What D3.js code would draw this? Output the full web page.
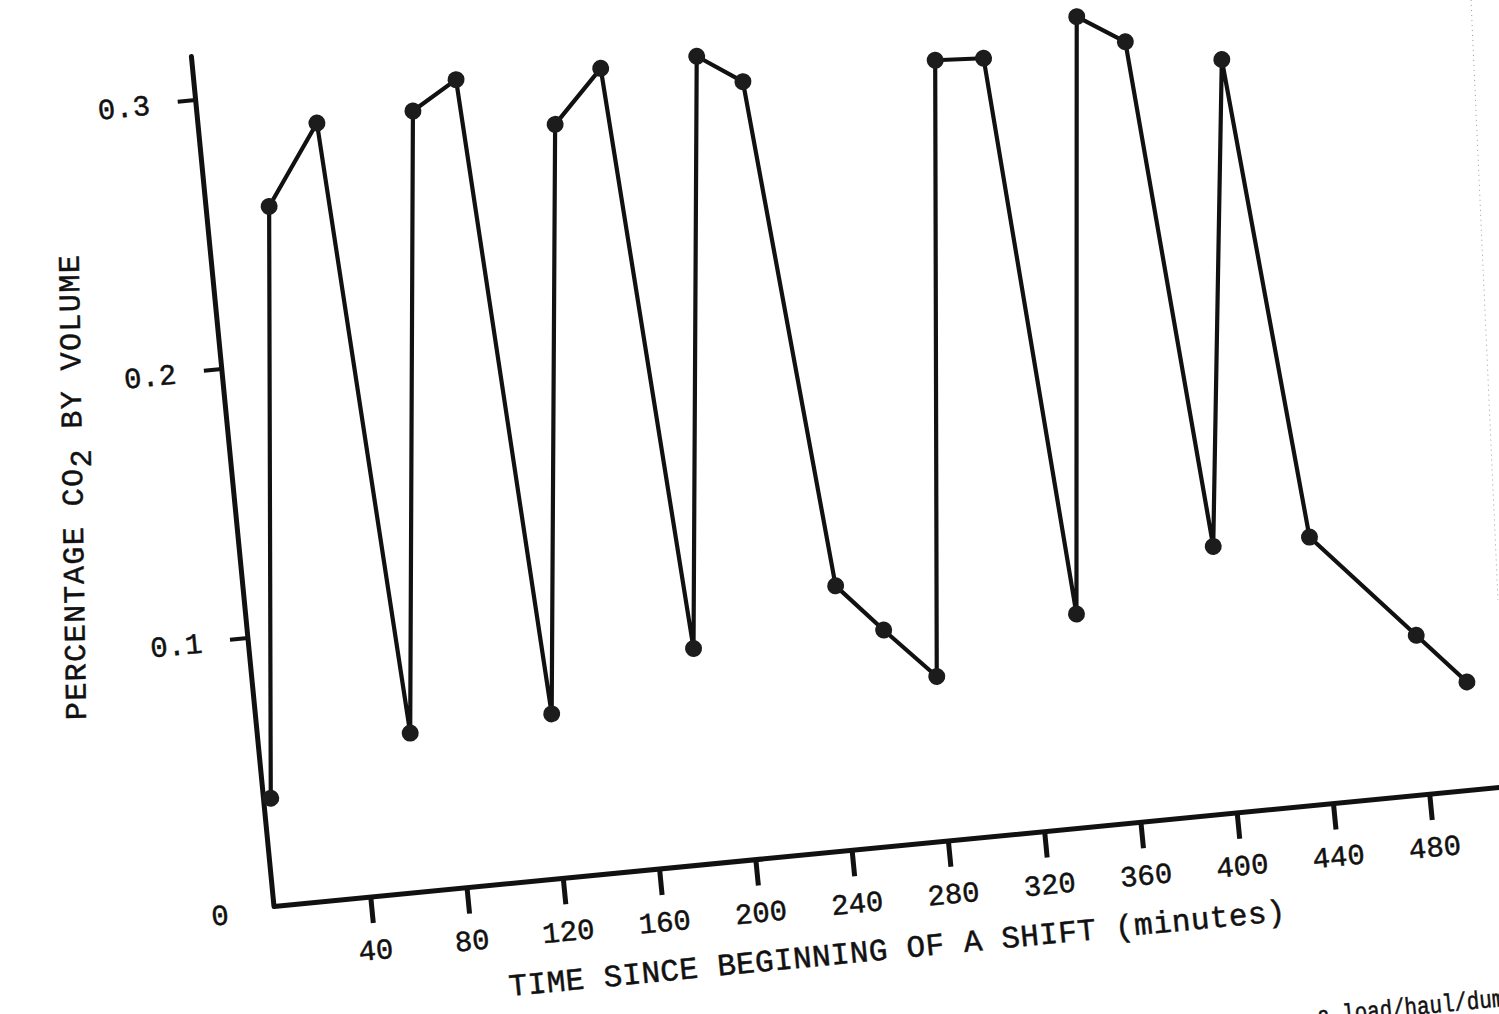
<!DOCTYPE html>
<html>
<head>
<meta charset="utf-8">
<script src="https://cdn.jsdelivr.net/npm/d3@7"></script>
<style>
  html, body { margin: 0; padding: 0; background: #fff; }
  text { font-family: "Liberation Mono", "DejaVu Sans Mono", monospace; fill: #111; stroke: #111; stroke-width: 0.5; }
</style>
</head>
<body>
<div id="chart"></div>
<script>
var width = 1499;
var height = 1014;

// minutes since beginning of the shift, in the order the line is drawn
var times = [3, 26, 49, 63, 89, 108, 122, 147, 168, 183, 208, 226, 244, 262, 282, 306, 326, 342, 366, 385, 401, 424, 441, 481, 500];
// percentage CO2 by volume
var co2 = [0.040, 0.258, 0.287, 0.059, 0.288, 0.298, 0.061, 0.278, 0.297, 0.080, 0.298, 0.287, 0.098, 0.080, 0.061, 0.288, 0.287, 0.079, 0.299, 0.288, 0.099, 0.278, 0.099, 0.059, 0.040];

var xTicks = [40, 80, 120, 160, 200, 240, 280, 320, 360, 400, 440, 480];
var yTicks = [0.1, 0.2, 0.3];

var points = times.map(function(t, i){ return {t: t, v: co2[i]}; });

var svg = d3.select("#chart")
    .append("svg")
    .attr("width", width)
    .attr("height", height);

svg.append("rect")
    .attr("width", width)
    .attr("height", height)
    .attr("fill", "#fff");

// the scanned page is tilted a little, so the whole plot is turned round the origin
var plot = svg.append("g")
    .attr("transform", "translate(274,906.5) rotate(-5.55)");

var x = d3.scaleLinear().domain([0, 525]).range([0, 1269.5]);
var y = d3.scaleLinear().domain([0, 0.316]).range([0, -854]);

// x axis ticks + labels
var xAxis = plot.append("g")
    .call(d3.axisBottom(x).tickValues(xTicks).tickSize(26).tickSizeOuter(0).tickPadding(16));
xAxis.select(".domain").remove();
xAxis.selectAll("line").attr("stroke", "#111").attr("stroke-width", 5);
xAxis.selectAll("text")
    .attr("font-family", "Liberation Mono, monospace")
    .attr("font-size", 29)
    .attr("fill", "#111");

// y axis ticks + labels
var yAxis = plot.append("g")
    .call(d3.axisLeft(y).tickValues(yTicks).tickSize(18).tickSizeOuter(0).tickPadding(28).tickFormat(d3.format(".1f")));
yAxis.select(".domain").remove();
yAxis.selectAll("line").attr("stroke", "#111").attr("stroke-width", 4);
yAxis.selectAll("text")
    .attr("font-family", "Liberation Mono, monospace")
    .attr("font-size", 29)
    .attr("fill", "#111")
    .attr("dy", "0.35em");

// the "0" at the corner has no tick
plot.append("text")
    .attr("x", -46)
    .attr("y", y(0))
    .attr("dy", "0.45em")
    .attr("text-anchor", "end")
    .attr("font-size", 29)
    .text("0");

// both axis lines as one path so the corner joins
plot.append("path")
    .datum([[0, 0.316], [0, 0], [525, 0]])
    .attr("d", d3.line().x(function(d){ return x(d[0]); }).y(function(d){ return y(d[1]); }))
    .attr("fill", "none")
    .attr("stroke", "#111")
    .attr("stroke-width", 5)
    .attr("stroke-linejoin", "round")
    .attr("stroke-linecap", "round");

// data line
plot.append("path")
    .datum(points)
    .attr("d", d3.line().x(function(d){ return x(d.t); }).y(function(d){ return y(d.v); }))
    .attr("fill", "none")
    .attr("stroke", "#111")
    .attr("stroke-width", 4.2)
    .attr("stroke-linejoin", "round");

plot.selectAll(".dot")
    .data(points)
    .enter()
        .append("circle")
        .attr("class", "dot")
        .attr("cx", function(d){ return x(d.t); })
        .attr("cy", function(d){ return y(d.v); })
        .attr("r", 8.5)
        .attr("fill", "#1c1c1c");

// x title
plot.append("text")
    .attr("x", 226)
    .attr("y", 112)
    .attr("font-size", 31)
    .attr("textLength", 780)
    .attr("lengthAdjust", "spacing")
    .text("TIME SINCE BEGINNING OF A SHIFT (minutes)");

// caption cut off by the bottom of the page
plot.append("text")
    .attr("x", 1028)
    .attr("y", 218)
    .attr("font-size", 25)
    .attr("textLength", 200)
    .attr("lengthAdjust", "spacingAndGlyphs")
    .text("a load/haul/dump");

// y title, typed almost upright
var yTitle = svg.append("text")
    .attr("transform", "translate(86,720) rotate(-90.9)")
    .attr("font-size", 30)
    .attr("textLength", 465)
    .attr("lengthAdjust", "spacing");
yTitle.append("tspan").text("PERCENTAGE CO");
yTitle.append("tspan").attr("dy", 9).text("2");
yTitle.append("tspan").attr("dy", -9).text(" BY VOLUME");

// dotted page edge of the scan
svg.append("line")
    .attr("x1", 1471).attr("y1", 0)
    .attr("x2", 1498).attr("y2", 600)
    .attr("stroke", "#9a9a9a")
    .attr("stroke-width", 1)
    .attr("stroke-dasharray", "1,4");
</script>
</body>
</html>
